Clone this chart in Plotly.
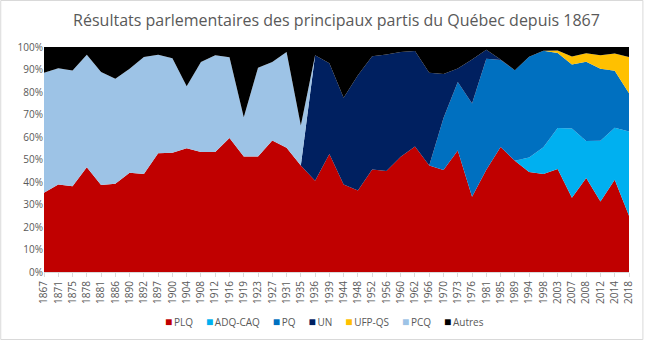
import plotly.graph_objects as go

years = ["1867","1871","1875","1878","1881","1886","1890","1892","1897","1900",
         "1904","1908","1912","1916","1919","1923","1927","1931","1935","1936",
         "1939","1944","1948","1952","1956","1960","1962","1966","1970","1973",
         "1976","1981","1985","1989","1994","1998","2003","2007","2008","2012",
         "2014","2018"]

plq = [35.2,38.9,38.1,46.6,38.7,39.2,44.1,43.6,52.8,53.0,
       55.0,53.3,53.3,59.6,51.3,51.3,58.4,55.2,47.3,40.6,
       52.5,38.9,36.2,45.6,44.9,51.2,55.8,47.3,45.3,54.0,
       33.5,45.5,55.5,49.5,44.4,43.6,45.8,33.0,41.8,31.3,
       41.0,25.0]
adq = [0]*34 + [6.5,11.8,18.2,30.8,16.4,27.0,23.1,37.4]
pq = [0]*28 + [23.1,30.5,41.4,49.3,38.7,40.2,44.8,42.9,33.3,28.4,35.2,32.0,25.4,17.1]
un = [0]*19 + [55.7,40.3,38.6,51.2,50.3,51.8,46.6,42.4,41.3,19.6,6.0,19.5,4.0,0.3] + [0]*9
qs = [0]*36 + [1.1,3.6,3.8,6.0,7.6,16.1]
pcq = [53.4,51.7,51.5,50.0,50.2,46.7,46.2,51.9,43.8,42.0,
       27.5,40.0,43.0,35.9,17.5,39.5,34.9,42.6,17.8] + [0]*23

series = [("PLQ", plq, "#C00000"), ("ADQ-CAQ", adq, "#00B0F0"), ("PQ", pq, "#0070C0"),
          ("UN", un, "#002060"), ("UFP-QS", qs, "#FFC000"), ("PCQ", pcq, "#9DC3E6")]
autres = [max(0.0, 100 - sum(s[1][i] for s in series)) for i in range(len(years))]
series.append(("Autres", autres, "#000000"))

fig = go.Figure()
for name, vals, col in series:
    fig.add_trace(go.Scatter(x=years, y=[v / 100 for v in vals], name=name,
                             stackgroup="one", mode="none", fillcolor=col,
                             showlegend=False))

W, H = 647, 340
L, R, T, B = 44, 14.5, 47, 68
pw, ph = W - L - R, H - T - B

gap = "&nbsp;" * 5
legend_text = gap.join(
    f"<span style='color:{col};font-size:12px'>■</span>&#8201;{name}" for name, _, col in series)

fig.update_layout(
    width=W, height=H, margin=dict(l=L, r=R, t=T, b=B),
    paper_bgcolor="white", plot_bgcolor="white",
    title=dict(text="Résultats parlementaires des principaux partis du Québec depuis 1867",
               x=0.5, xref="paper", y=1 - 20 / H, yanchor="middle",
               font=dict(family="Open Sans", size=16, color="#595959")),
    font=dict(family="Open Sans", size=10, color="#595959"),
    showlegend=False,
    annotations=[dict(text=legend_text, xref="paper", yref="paper",
                      x=(326 - L) / pw, xanchor="center",
                      y=-(321 - 272) / ph, yanchor="middle", showarrow=False,
                      font=dict(family="Open Sans", size=10, color="#595959"))],
    xaxis=dict(type="category", range=[0, len(years) - 1], tickangle=-90,
               showgrid=False, showline=True, linecolor="#d9d9d9",
               ticks="outside", ticklen=4, tickcolor="#d9d9d9",
               tickfont=dict(size=10, color="#595959")),
    yaxis=dict(range=[0, 1], dtick=0.1, tickformat=".0%", showgrid=True,
               gridcolor="#d9d9d9", zeroline=False, showline=False,
               tickfont=dict(size=10, color="#595959")),
    shapes=[dict(type="rect", xref="paper", yref="paper",
                 x0=(0.5 - L) / pw, x1=(W - 0.5 - L) / pw,
                 y0=(272 - (H - 0.5)) / ph, y1=(272 - 0.5) / ph,
                 line=dict(color="#d9d9d9", width=1), fillcolor="rgba(0,0,0,0)",
                 layer="below")],
)
fig.write_html("out.html")
